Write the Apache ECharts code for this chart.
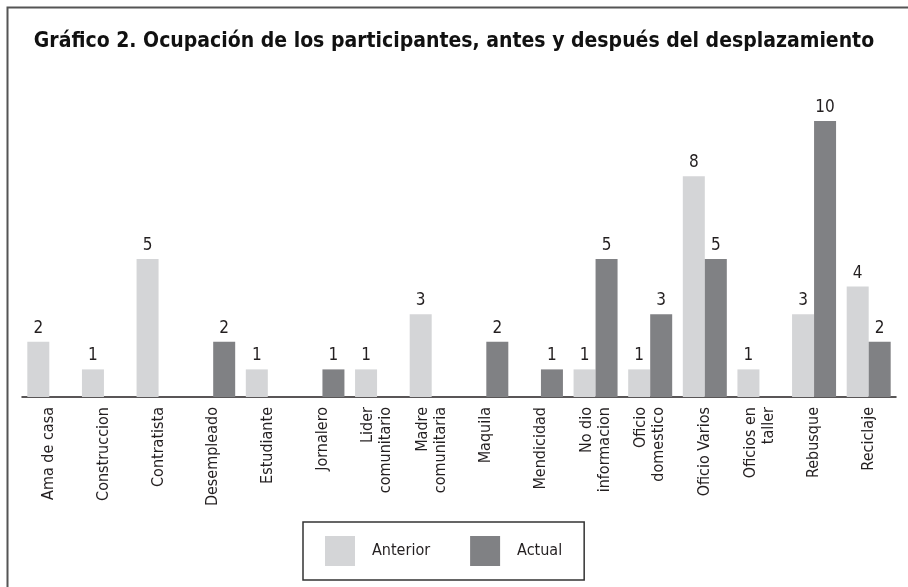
<!DOCTYPE html>
<html>
<head>
<meta charset="utf-8">
<script src="https://cdn.jsdelivr.net/npm/echarts@6/dist/echarts.min.js"></script>
<style>
html,body{margin:0;padding:0;background:#fff;}
#c{width:908px;height:587px;}
</style>
</head>
<body>
<div id="c"></div>
<script>
var categories = ["Ama de casa","Construccion","Contratista","Desempleado","Estudiante","Jornalero","Lider\ncomunitario","Madre\ncomunitaria","Maquila","Mendicidad","No dio\ninformacion","Oficio\ndomestico","Oficio Varios","Oficios en\ntaller","Rebusque","Reciclaje"];
var anterior = [2,1,5,null,1,null,1,3,null,null,1,1,8,1,3,4];
var actual = [null,null,null,2,null,1,null,null,2,1,5,3,5,null,10,2];
var seriesNames = ["Anterior","Actual"];
var titleText = "Gráfico 2. Ocupación de los participantes, antes y después del desplazamiento";

var FONT = "'Liberation Sans Narrow', 'DejaVu Sans Condensed', 'Roboto Condensed', sans-serif";
var chart = echarts.init(document.getElementById('c'), null, {renderer:'canvas'});
var labelCfg = {show:true, position:'top', distance:5, color:'#231f20', fontFamily:FONT, fontSize:17};
chart.setOption({
  animation:false,
  backgroundColor:'#ffffff',
  graphic:[{type:'rect', left:5, top:5, shape:{x:0,y:0,width:920,height:600}, style:{fill:'none', stroke:'#555', lineWidth:2}, silent:true}],
  title:{text:titleText, left:'center', top:26, textStyle:{fontFamily:FONT, fontWeight:'bold', fontSize:21, color:'#111'}},
  grid:{left:22, right:12, top:121, bottom:190},
  legend:{data:seriesNames, left:303, top:522,
    borderColor:'#333', borderWidth:1.5, padding:[14,22,14,22],
    itemWidth:30, itemHeight:30, itemGap:40, icon:'rect',
    textStyle:{fontFamily:FONT, fontSize:16, color:'#231f20', padding:[0,0,0,12]}},
  xAxis:{type:'category', data:categories,
    axisLine:{lineStyle:{color:'#231f20', width:1.5}}, axisTick:{show:false},
    axisLabel:{interval:0, rotate:90, margin:10, color:'#231f20', fontFamily:FONT, fontSize:16, lineHeight:18}},
  yAxis:{type:'value', min:0, max:10, interval:1, show:false, splitLine:{show:false}},
  series:[
    {name:seriesNames[0], type:'bar', data:anterior, barWidth:22, barGap:'0%', itemStyle:{color:'#d4d5d7'}, label:labelCfg},
    {name:seriesNames[1], type:'bar', data:actual, barWidth:22, barGap:'0%', itemStyle:{color:'#808184'}, label:labelCfg}
  ]
});
</script>
</body>
</html>
